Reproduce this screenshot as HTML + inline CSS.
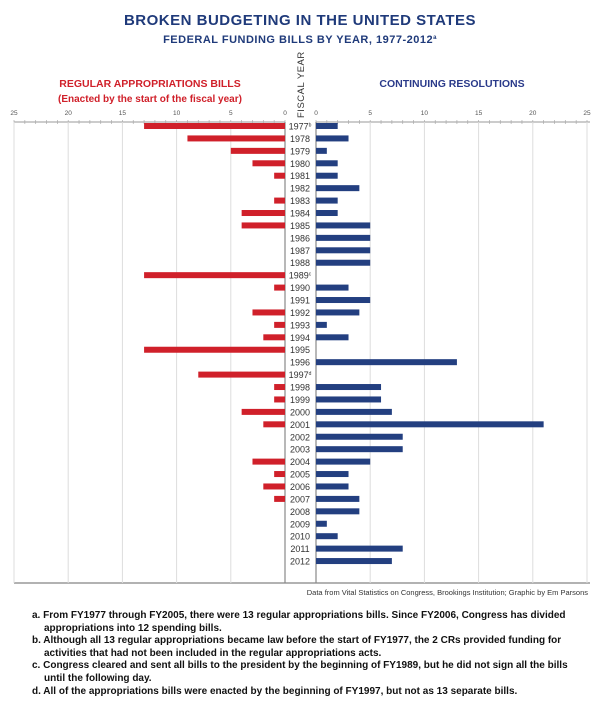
<!DOCTYPE html>
<html><head><meta charset="utf-8">
<style>
body{margin:0;background:#fff;width:600px;height:712px;overflow:hidden;font-family:"Liberation Sans",sans-serif}
svg{display:block}
.fn{position:absolute;left:32px;width:548px;font-size:10px;font-weight:bold;color:#111;line-height:12.6px}
.fn div{padding-left:12px;text-indent:-12px;margin-bottom:0}
</style></head>
<body>
<svg id="chart" width="600" height="712" xmlns="http://www.w3.org/2000/svg" style="position:absolute;left:0;top:0">
<text x="300" y="25" text-anchor="middle" font-size="15" font-weight="bold" fill="#1f3a7a" letter-spacing="0.5">BROKEN BUDGETING IN THE UNITED STATES</text>
<text x="300" y="43" text-anchor="middle" font-size="11" font-weight="bold" fill="#1f3a7a" letter-spacing="0.5">FEDERAL FUNDING BILLS BY YEAR, 1977-2012<tspan font-size="6" dy="-4">a</tspan></text>
<text x="150" y="87" text-anchor="middle" font-size="10.5" font-weight="bold" fill="#d0202a">REGULAR APPROPRIATIONS BILLS</text>
<text x="150" y="102" text-anchor="middle" font-size="10" font-weight="bold" fill="#d0202a">(Enacted by the start of the fiscal year)</text>
<text x="452" y="87" text-anchor="middle" font-size="10.5" font-weight="bold" fill="#2a3a8a">CONTINUING RESOLUTIONS</text>
<text transform="translate(304,118) rotate(-90)" font-size="9.5" fill="#333" letter-spacing="0.5">FISCAL YEAR</text>
<g id="grid"></g><g id="bars"></g>
<text x="588" y="595" text-anchor="end" font-size="7.5" fill="#333">Data from Vital Statistics on Congress, Brookings Institution; Graphic by Em Parsons</text>
</svg>
<div class="fn" style="top:610px">
<div>a. From FY1977 through FY2005, there were 13 regular appropriations bills. Since FY2006, Congress has divided appropriations into 12 spending bills.</div>
<div>b. Although all 13 regular appropriations became law before the start of FY1977, the 2 CRs provided funding for activities that had not been included in the regular appropriations acts.</div>
<div>c. Congress cleared and sent all bills to the president by the beginning of FY1989, but he did not sign all the bills until the following day.</div>
<div>d. All of the appropriations bills were enacted by the beginning of FY1997, but not as 13 separate bills.</div>
</div>
<script>
const years=["1977","1978","1979","1980","1981","1982","1983","1984","1985","1986","1987","1988","1989","1990","1991","1992","1993","1994","1995","1996","1997","1998","1999","2000","2001","2002","2003","2004","2005","2006","2007","2008","2009","2010","2011","2012"];
const yearNotes={"1977":"b","1989":"c","1997":"d"};
const regularBills=[13,9,5,3,1,0,1,4,4,0,0,0,13,1,0,3,1,2,13,0,8,1,1,4,2,0,0,3,1,2,1,0,0,0,0,0];
const continuingRes=[2,3,1,2,2,4,2,2,5,5,5,5,0,3,5,4,1,3,0,13,0,6,6,7,21,8,8,5,3,3,4,4,1,2,8,7];
const tickValues=[0,5,10,15,20,25];
const NS="http://www.w3.org/2000/svg";
const L0=285,R0=316,PX=10.84,TOP=122,BOT=583,Y0=126,PITCH=12.43,BH=6;
const xl=v=>L0-v*PX, xr=v=>R0+v*PX, yr=i=>Y0+i*PITCH;
function mk(t,a,p){const e=document.createElementNS(NS,t);for(const k in a)e.setAttribute(k,a[k]);p.appendChild(e);return e;}
const g=document.getElementById('grid'),b=document.getElementById('bars');
let e=mk('line',{x1:14,x2:L0,y1:TOP,y2:TOP,stroke:'#999','stroke-width':1},g);

e=mk('line',{x1:R0,x2:590,y1:TOP,y2:TOP,stroke:'#999','stroke-width':1},g);

e=mk('line',{x1:14,x2:590,y1:BOT,y2:BOT,stroke:'#999','stroke-width':1.5},g);

for(let v=0;v<=25;v++){
  mk('line',{x1:xl(v),x2:xl(v),y1:TOP-2,y2:TOP+2,stroke:'#aaa','stroke-width':0.7},g);
  mk('line',{x1:xr(v),x2:xr(v),y1:TOP-2,y2:TOP+2,stroke:'#aaa','stroke-width':0.7},g);
}
tickValues.forEach(v=>{
  const s=v===0?'#888':'#ddd';
  e=mk('line',{x1:xl(v),x2:xl(v),y1:TOP,y2:BOT,stroke:s,'stroke-width':v===0?1.2:1},g);
  
  e=mk('line',{x1:xr(v),x2:xr(v),y1:TOP,y2:BOT,stroke:s,'stroke-width':v===0?1.2:1},g);
  
  e=mk('text',{x:xl(v),y:TOP-7,'text-anchor':'middle','font-size':6.5,fill:'#555'},g);e.textContent=v;
  
  e=mk('text',{x:xr(v),y:TOP-7,'text-anchor':'middle','font-size':6.5,fill:'#555'},g);e.textContent=v;
  
});
years.forEach((y,i)=>{
  const cy=yr(i);
  if(regularBills[i]>0){
    e=mk('rect',{x:xl(regularBills[i]),y:cy-BH/2,width:regularBills[i]*PX,height:BH,fill:'#d0202a'},b);
    
  }
  if(continuingRes[i]>0){
    e=mk('rect',{x:R0,y:cy-BH/2,width:continuingRes[i]*PX,height:BH,fill:'#233f80'},b);
    
  }
  e=mk('text',{x:300,y:cy+3.5,'text-anchor':'middle','font-size':9,fill:'#333'},b);
  e.textContent=y;
  if(yearNotes[y]){const t=mk('tspan',{'font-size':5,dy:-3},e);t.textContent=yearNotes[y];}
  
});
</script>
</body></html>
